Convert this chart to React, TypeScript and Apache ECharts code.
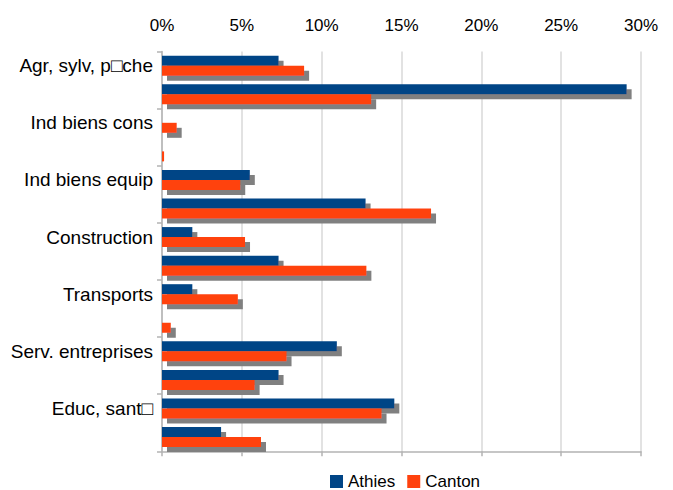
import React, { useEffect, useRef } from "react";
import * as echarts from "echarts";

const categories = [
  "Agr, sylv, p□che",
  "Ind agricoles et alim",
  "Ind biens cons",
  "Ind automobile",
  "Ind biens equip",
  "Ind biens interm",
  "Construction",
  "Commerce",
  "Transports",
  "Act. financières",
  "Serv. entreprises",
  "Serv. particuliers",
  "Educ, sant□",
  "Administration",
];
const athies = [7.3, 29.1, 0, 0, 5.5, 12.75, 1.9, 7.3, 1.9, 0, 10.95, 7.3, 14.55, 3.7];
const canton = [8.9, 13.1, 0.92, 0.13, 4.9, 16.85, 5.2, 12.8, 4.75, 0.55, 7.8, 5.8, 13.75, 6.2];
const xTicks = { min: 0, max: 30, interval: 5 };

const FONT = "Liberation Sans, Arial, sans-serif";

export default function App() {
  const ref = useRef<HTMLDivElement>(null);
  useEffect(() => {
    if (!ref.current) return;
    const chart = echarts.init(ref.current, undefined, { renderer: "svg" });
    const shadow = {
      shadowColor: "#808080",
      shadowOffsetX: 5,
      shadowOffsetY: 5,
      shadowBlur: 0,
    };
    chart.setOption({
      animation: false,
      backgroundColor: "#ffffff",
      textStyle: { fontFamily: FONT },
      grid: { left: 162, right: 32, top: 51.4, bottom: 38.7, containLabel: false },
      legend: {
        top: 473,
        left: 330,
        padding: 0,
        itemWidth: 13,
        itemHeight: 13,
        itemGap: 12,
        icon: "rect",
        textStyle: { fontSize: 17, lineHeight: 17, color: "#000", fontFamily: FONT },
        data: ["Athies", "Canton"],
      },
      xAxis: [
        {
          type: "value",
          position: "top",
          min: xTicks.min,
          max: xTicks.max,
          interval: xTicks.interval,
          axisLine: { show: false },
          axisTick: { show: false },
          axisLabel: {
            formatter: (v: number) => v + "%",
            fontSize: 17,
            color: "#000",
            margin: 17,
            fontFamily: FONT,
          },
          splitLine: { show: true, lineStyle: { color: "#d9d9d9", width: 1.5 } },
        },
        {
          type: "value",
          position: "bottom",
          min: xTicks.min,
          max: xTicks.max,
          interval: xTicks.interval,
          axisLine: { show: true, onZero: false, lineStyle: { color: "#b3b3b3", width: 1.5 } },
          axisTick: { show: true, length: 5, lineStyle: { color: "#b3b3b3", width: 1.5 } },
          axisLabel: { show: false },
          splitLine: { show: false },
        },
      ],
      yAxis: {
        type: "category",
        inverse: true,
        data: categories,
        axisLine: { show: true, lineStyle: { color: "#b3b3b3", width: 1.5 } },
        axisTick: { show: true, length: 5, lineStyle: { color: "#b3b3b3", width: 1.5 } },
        axisLabel: {
          interval: 1,
          fontSize: 19,
          color: "#000",
          margin: 9,
          fontFamily: FONT,
        },
      },
      series: [
        {
          name: "Athies",
          type: "bar",
          xAxisIndex: 0,
          data: athies,
          barWidth: 10,
          barGap: "0%",
          itemStyle: { color: "#004586", ...shadow },
        },
        {
          name: "Canton",
          type: "bar",
          xAxisIndex: 0,
          data: canton,
          barWidth: 10,
          barGap: "0%",
          itemStyle: { color: "#ff420e", ...shadow },
        },
      ],
    });
    return () => chart.dispose();
  }, []);
  return <div ref={ref} style={{ width: 673, height: 490, position: "absolute", left: 0, top: 0 }} />;
}
